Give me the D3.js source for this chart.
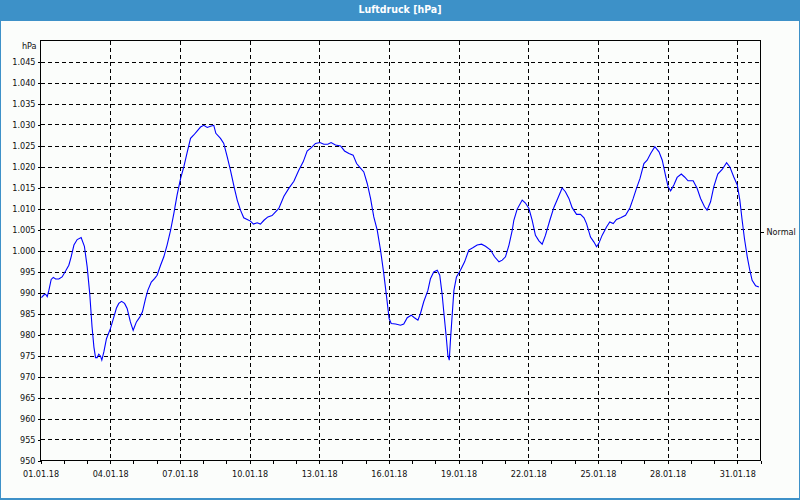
<!DOCTYPE html>
<html>
<head>
<meta charset="utf-8">
<script src="https://cdn.jsdelivr.net/npm/d3@7"></script>
<style>
  html, body { margin: 0; padding: 0; background: #fbfdfb; }
  svg { display: block; }
  text { font-family: "DejaVu Sans Condensed", "DejaVu Sans", sans-serif; font-stretch: condensed; }
</style>
</head>
<body>
<script>
// ---- data ----
const title = "Luftdruck [hPa]";
const unitLabel = "hPa";
const normalLabel = "Normal";
const normalValue = 1004.5;
const startDate = new Date(2018, 0, 1);
const endDate = new Date(2018, 1, 1);
const yTicks = [950, 955, 960, 965, 970, 975, 980, 985, 990, 995, 1000, 1005, 1010, 1015, 1020, 1025, 1030, 1035, 1040, 1045];
// days since 01.01.18 00:00
const dayOffsets = [
  0.04,0.14,0.22,0.29,0.36,0.46,0.55,0.65,0.79,0.93,1.08,1.22,1.32,1.44,1.58,1.75,1.89,2.01,2.12,2.22,
  2.30,2.37,2.44,2.51,2.58,2.64,2.73,2.84,3.01,3.16,3.27,3.37,3.49,3.62,3.73,3.87,3.99,4.13,4.28,4.39,
  4.52,4.62,4.77,4.91,5.02,5.17,5.31,5.45,5.60,5.74,5.88,6.03,6.17,6.32,6.46,6.60,6.75,6.89,7.03,7.18,
  7.32,7.46,7.55,7.75,7.89,8.04,8.18,8.35,8.47,8.61,8.75,8.90,9.04,9.17,9.33,9.47,9.62,9.79,9.97,10.26,
  10.48,10.69,10.91,11.12,11.31,11.48,11.66,11.84,12.03,12.20,12.37,12.51,12.70,12.92,13.09,13.28,13.46,13.61,13.75,13.92,
  14.07,14.21,14.35,14.50,14.64,14.78,14.90,15.01,15.10,15.29,15.50,15.64,15.79,15.96,16.10,16.25,16.36,16.50,16.68,16.79,
  16.93,17.08,17.19,17.29,17.37,17.47,17.54,17.60,17.65,17.73,17.80,17.91,18.08,18.26,18.44,18.63,18.80,18.99,19.16,19.38,
  19.55,19.74,19.88,20.02,20.17,20.31,20.38,20.52,20.74,20.88,21.03,21.17,21.31,21.46,21.60,21.74,21.93,22.10,22.27,22.46,
  22.60,22.75,22.89,23.08,23.25,23.40,23.51,23.68,23.83,23.94,24.04,24.18,24.37,24.51,24.66,24.80,24.98,25.19,25.38,25.52,
  25.66,25.81,25.98,26.12,26.27,26.45,26.63,26.77,26.91,27.02,27.13,27.27,27.41,27.59,27.73,27.88,28.10,28.27,28.42,28.59,
  28.70,28.85,28.99,29.16,29.35,29.54,29.68,29.85,30.00,30.11,30.21,30.31,30.43,30.54,30.64,30.79,30.93
];
const pressure = [
  988.8,989.4,989.6,989.0,990.5,993.1,993.6,993.2,993.2,993.7,995.1,996.5,998.5,1001.3,1002.6,1003.1,1001.0,996.1,989.7,981.8,
  977.0,974.5,974.5,975.3,974.9,973.9,975.9,979.0,981.4,984.2,986.3,987.4,987.9,987.4,986.2,983.0,981.0,983.0,984.2,985.4,
  988.5,990.5,992.5,993.3,994.1,996.5,998.5,1001.3,1004.8,1008.8,1013.2,1017.1,1019.9,1023.5,1026.7,1027.5,1028.5,1029.4,1029.8,1029.3,
  1029.6,1029.8,1027.9,1026.7,1025.5,1022.3,1019.1,1014.8,1012.0,1009.6,1007.8,1007.4,1007.0,1006.3,1006.6,1006.3,1007.2,1008.0,1008.3,1010.0,
  1012.9,1014.8,1016.5,1019.1,1021.1,1023.7,1024.5,1025.5,1025.7,1025.3,1025.3,1025.7,1025.1,1024.9,1023.7,1023.1,1022.7,1020.7,1019.8,1018.7,
  1015.9,1012.4,1008.0,1004.8,1000.1,994.5,989.0,983.8,982.6,982.5,982.2,982.5,984.0,984.6,984.0,983.4,985.0,987.8,990.5,993.3,
  994.9,995.3,994.1,989.7,985.0,979.4,975.0,973.9,978.6,985.0,990.5,993.7,995.3,997.3,1000.1,1000.7,1001.3,1001.5,1001.0,1000.1,
  998.5,997.3,997.7,998.5,1001.3,1004.8,1007.2,1009.8,1012.0,1011.3,1010.0,1007.2,1003.6,1002.3,1001.5,1003.6,1007.2,1010.2,1012.4,1014.9,
  1014.0,1012.4,1010.2,1008.6,1008.6,1007.8,1006.4,1003.2,1002.0,1000.9,1001.7,1003.6,1005.6,1006.8,1006.4,1007.4,1007.8,1008.4,1010.2,1012.4,
  1014.8,1017.1,1020.7,1021.5,1023.1,1024.7,1023.5,1021.5,1017.9,1015.2,1014.2,1015.6,1017.4,1018.2,1017.5,1016.6,1016.6,1014.8,1012.4,1010.4,
  1009.6,1011.6,1015.2,1018.2,1019.3,1020.9,1019.9,1017.5,1015.6,1012.0,1007.2,1002.8,998.5,995.3,992.9,991.6,991.3
];

// ---- layout ----
const W = 800, H = 500;
const pLeft = 40.5, pRight = 760.5, pTop = 40.5, pBottom = 460.5;
const fontFam = "\"DejaVu Sans Condensed\", \"DejaVu Sans\", sans-serif";

const svg = d3.select("body").append("svg").attr("width", W).attr("height", H);

// background + frame
svg.append("rect").attr("x", 0).attr("y", 0).attr("width", W).attr("height", H).attr("fill", "#fbfdfb");
svg.append("rect").attr("x", 0).attr("y", 0).attr("width", W).attr("height", 21).attr("fill", "#3d91c8");
svg.append("rect").attr("x", 0.5).attr("y", 0.5).attr("width", W - 1).attr("height", H - 1)
  .attr("fill", "none").attr("stroke", "#3d91c8").attr("stroke-width", 1);
svg.append("line").attr("x1", 0).attr("x2", W).attr("y1", H - 1.5).attr("y2", H - 1.5).attr("stroke", "#3d91c8");
svg.append("text").attr("x", W / 2).attr("y", 13).attr("text-anchor", "middle")
  .attr("fill", "#ffffff").attr("font-weight", "bold").attr("font-size", "10.5px").text(title);

const x = d3.scaleTime().domain([startDate, endDate]).range([pLeft, pRight]);
const y = d3.scaleLinear().domain([950, 1050]).range([pBottom, pTop]);

const locale = d3.formatLocale({ decimal: ",", thousands: ".", grouping: [3], currency: ["", " €"] });
const fmtY = locale.format(",");
const fmtX = d3.timeFormat("%d.%m.%y");

const labelDays = d3.timeDay.range(startDate, endDate).filter((d, i) => i % 3 === 0);
const allDays = d3.timeDay.range(startDate, d3.timeDay.offset(endDate, 1));

// grid
const grid = svg.append("g").attr("stroke", "#000").attr("stroke-dasharray", "4,3").attr("shape-rendering", "crispEdges");
grid.selectAll("line.h").data(yTicks.filter(v => v > 950)).join("line")
  .attr("x1", pLeft).attr("x2", pRight)
  .attr("y1", d => Math.round(y(d)) + 0.5).attr("y2", d => Math.round(y(d)) + 0.5);
grid.selectAll("line.v").data(labelDays.filter((d, i) => i > 0)).join("line")
  .attr("x1", d => Math.round(x(d)) + 0.5).attr("x2", d => Math.round(x(d)) + 0.5)
  .attr("y1", pTop).attr("y2", pBottom);

// axes
const xAxis = d3.axisBottom(x).tickValues(allDays).tickSize(3).tickFormat(() => "");
const gx = svg.append("g").attr("transform", `translate(0,${pBottom})`).call(xAxis);
gx.select(".domain").remove();
gx.selectAll("line").attr("stroke", "#000").attr("shape-rendering", "crispEdges");

const xLab = d3.axisBottom(x).tickValues(labelDays).tickSize(0).tickPadding(10).tickFormat(fmtX);
const gxl = svg.append("g").attr("transform", `translate(0,${pBottom})`).call(xLab);
gxl.select(".domain").remove();
gxl.selectAll("text").attr("font-size", "9px").attr("fill", "#101010").attr("font-family", fontFam);

const yAxis = d3.axisLeft(y).tickValues(yTicks).tickSize(3).tickPadding(2).tickFormat(fmtY);
const gy = svg.append("g").attr("transform", `translate(${pLeft},0)`).call(yAxis);
gy.select(".domain").remove();
gy.selectAll("line").attr("stroke", "#000").attr("shape-rendering", "crispEdges");
gy.selectAll("text").attr("font-size", "9px").attr("fill", "#101010").attr("font-family", fontFam);

svg.append("text").attr("x", pLeft - 4).attr("y", y(1050) + 8).attr("text-anchor", "end")
  .attr("font-size", "9px").attr("fill", "#101010").attr("font-family", fontFam).text(unitLabel);

// right axis "Normal"
const yR = d3.axisRight(y).tickValues([normalValue]).tickSize(3).tickPadding(3).tickFormat(() => normalLabel);
const gr = svg.append("g").attr("transform", `translate(${pRight},0)`).call(yR);
gr.select(".domain").remove();
gr.selectAll("line").attr("stroke", "#000").attr("shape-rendering", "crispEdges");
gr.selectAll("text").attr("font-size", "9px").attr("fill", "#101010").attr("font-family", fontFam);

// plot frame
svg.append("rect").attr("x", pLeft).attr("y", pTop).attr("width", pRight - pLeft).attr("height", pBottom - pTop)
  .attr("fill", "none").attr("stroke", "#000").attr("shape-rendering", "crispEdges");

// series
const data = dayOffsets.map((d, i) => ({ t: new Date(startDate.getTime() + d * 86400000), v: pressure[i] }));
const line = d3.line().x(d => x(d.t)).y(d => y(d.v));
svg.append("path").datum(data).attr("d", line).attr("fill", "none")
  .attr("stroke", "#0000ff").attr("stroke-width", 1.1);
</script>
</body>
</html>
